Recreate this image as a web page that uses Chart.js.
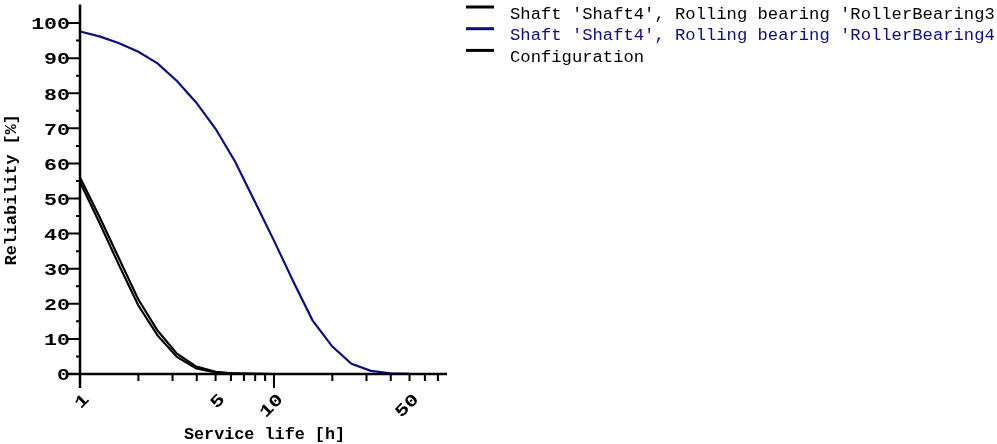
<!DOCTYPE html>
<html>
<head>
<meta charset="utf-8">
<script src="https://cdn.jsdelivr.net/npm/chart.js@4/dist/chart.umd.min.js"></script>
<style>
  html, body { margin: 0; padding: 0; background: #fff; }
  #wrap { width: 997px; height: 444px; position: relative; }
</style>
</head>
<body>
<div id="wrap"><canvas id="c"></canvas></div>
<script>
// ---- data ----
const serviceLife = [1, 1.26, 1.58, 2.0, 2.51, 3.16, 3.98, 5.01, 6.31, 7.94, 10, 12.6, 15.8, 20.0, 25.1, 31.6, 39.8, 50.1, 63.1];
const bearing3 = [56.0, 44.8, 33.2, 21.2, 12.4, 5.8, 2.1, 0.6, 0.15, 0.03, 0];
const bearing4 = [97.6, 96.2, 94.3, 91.8, 88.5, 83.5, 77.3, 69.8, 60.5, 49.3, 38.0, 26.3, 15.3, 7.8, 2.9, 0.9, 0.2, 0.03, 0];
const configuration = [54.7, 43.1, 31.3, 19.5, 11.0, 4.85, 1.6, 0.42, 0.09, 0.015, 0];
const seriesLabels = ["Shaft 'Shaft4', Rolling bearing 'RollerBearing3'", "Shaft 'Shaft4', Rolling bearing 'RollerBearing4'", "Configuration"];
const seriesColors = ["#000000", "#0c0c84", "#000000"];
const legendTextColors = ["#000000", "#0c0c84", "#000000"];
const yTickLabels = [0, 10, 20, 30, 40, 50, 60, 70, 80, 90, 100];
const xTickLabels = [1, 5, 10, 50];
const xMinorTicks = [2, 3, 4, 5, 6, 7, 8, 9, 20, 30, 40, 50, 60, 70];
const xMajorTicks = [1, 10];
const xTitle = "Service life [h]";
const yTitle = "Reliability [%]";

function pts(ys) { return ys.map((y, i) => ({ x: serviceLife[i], y: y })); }

const FONT = '"Liberation Mono", "Courier New", monospace';

const axesPlugin = {
  id: 'customAxes',
  afterDatasetsDraw(chart) {
    const ctx = chart.ctx;
    const xs = chart.scales.x, ys = chart.scales.y;
    const x0 = xs.getPixelForValue(1);
    const y0 = ys.getPixelForValue(0);
    const yTop = ys.getPixelForValue(105);
    const xEnd = xs.getPixelForValue(78);
    ctx.save();
    ctx.strokeStyle = '#000';
    ctx.fillStyle = '#000';
    ctx.lineWidth = 2.5;
    ctx.lineCap = 'butt';
    // axis lines
    ctx.beginPath();
    ctx.moveTo(x0, yTop - 1); ctx.lineTo(x0, y0 + 14);
    ctx.moveTo(x0 - 13, y0); ctx.lineTo(xEnd, y0);
    ctx.stroke();
    // y ticks
    ctx.lineWidth = 2;
    ctx.beginPath();
    for (let v = 5; v <= 100; v += 5) {
      const py = ys.getPixelForValue(v);
      if (v % 10 === 0) { ctx.moveTo(x0 - 13, py); ctx.lineTo(x0, py); }
      else { ctx.moveTo(x0 - 4, py); ctx.lineTo(x0, py); }
    }
    // x ticks
    xMinorTicks.forEach(v => { const px = xs.getPixelForValue(v); ctx.moveTo(px, y0); ctx.lineTo(px, y0 + 7); });
    xMajorTicks.forEach(v => { const px = xs.getPixelForValue(v); ctx.moveTo(px, y0); ctx.lineTo(px, y0 + 14); });
    ctx.stroke();

    // y tick labels (wide, bold)
    ctx.font = 'bold 17px ' + FONT;
    ctx.textAlign = 'right';
    ctx.textBaseline = 'middle';
    yTickLabels.forEach(v => {
      const py = ys.getPixelForValue(v);
      ctx.save();
      ctx.translate(70, py + 2);
      ctx.scale(1.27, 1);
      ctx.fillText(String(v), 0, 0);
      ctx.restore();
    });
    // x tick labels rotated
    xTickLabels.forEach(v => {
      const px = xs.getPixelForValue(v);
      ctx.save();
      ctx.translate(px + 7, y0 + 23);
      ctx.rotate(-Math.PI / 4);
      ctx.scale(1.27, 1);
      ctx.textAlign = 'right';
      ctx.textBaseline = 'middle';
      ctx.fillText(String(v), 0, 0);
      ctx.restore();
    });
    // axis titles
    ctx.font = 'bold 16.8px ' + FONT;
    ctx.textAlign = 'center';
    ctx.textBaseline = 'middle';
    ctx.fillText(xTitle, (x0 + xEnd) / 2 + 1, 435);
    ctx.save();
    ctx.translate(12, (yTop + y0) / 2);
    ctx.rotate(-Math.PI / 2);
    ctx.fillText(yTitle, 0, 0);
    ctx.restore();

    // legend
    ctx.font = '17.2px ' + FONT;
    ctx.textAlign = 'left';
    ctx.textBaseline = 'alphabetic';
    chart.data.datasets.forEach((ds, i) => {
      const ly = 7 + i * 21.7;
      ctx.strokeStyle = ds.borderColor;
      ctx.lineWidth = 3;
      ctx.beginPath();
      ctx.moveTo(466, ly); ctx.lineTo(494, ly);
      ctx.stroke();
      ctx.fillStyle = legendTextColors[i];
      ctx.fillText(ds.label, 510, ly + 11.5);
    });
    ctx.restore();
  }
};

new Chart(document.getElementById('c'), {
  type: 'line',
  data: {
    datasets: [
      { label: seriesLabels[0], data: pts(bearing3), borderColor: seriesColors[0], borderWidth: 2.2 },
      { label: seriesLabels[1], data: pts(bearing4), borderColor: seriesColors[1], borderWidth: 2.2 },
      { label: seriesLabels[2], data: pts(configuration), borderColor: seriesColors[2], borderWidth: 2.2 }
    ]
  },
  options: {
    responsive: true,
    maintainAspectRatio: false,
    animation: false,
    devicePixelRatio: 1,
    layout: { padding: { left: 80, right: 550, top: 5.5, bottom: 70 } },
    elements: { point: { radius: 0 }, line: { tension: 0, fill: false } },
    scales: {
      x: { type: 'logarithmic', min: 1, max: 78, display: false },
      y: { type: 'linear', min: 0, max: 105, display: false }
    },
    plugins: { legend: { display: false }, tooltip: { enabled: false } },
    clip: false
  },
  plugins: [axesPlugin]
});
</script>
</body>
</html>
